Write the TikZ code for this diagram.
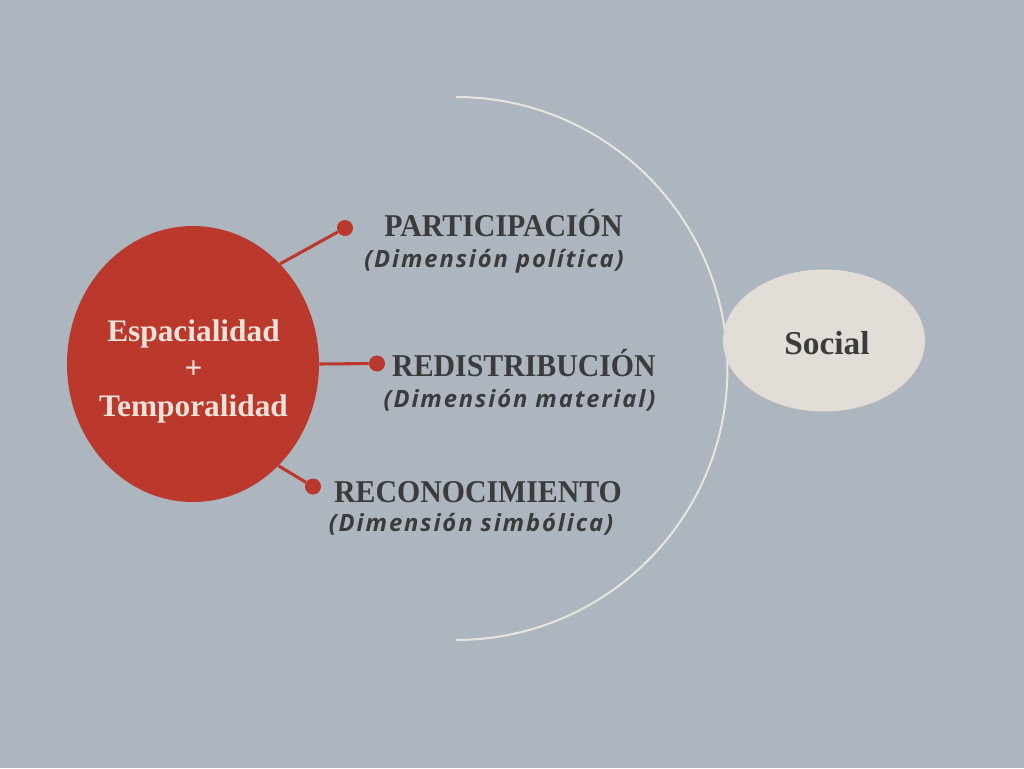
\documentclass[tikz,border=0pt]{standalone}
\usepackage{fontspec}
\setmainfont{Liberation Serif}
\newfontfamily\headfont[FakeStretch=0.94]{Liberation Serif}
\newfontfamily\bodyfont{Liberation Serif}
\newfontfamily\dimfont[LetterSpace=8]{Open Sans}
\usetikzlibrary{shapes.geometric}
\definecolor{bg}{HTML}{ADB5BF}
\definecolor{redc}{HTML}{BA382C}
\definecolor{cream}{HTML}{EDE1D8}
\definecolor{darktxt}{HTML}{3B3B3B}
\definecolor{socialfill}{HTML}{E2DDD7}
\definecolor{arcc}{HTML}{E8E4DE}
\tikzset{
  bigell/.style={ellipse, fill=redc, minimum width=189pt, minimum height=207pt, inner sep=0pt},
  inner/.style={text=cream, align=center, inner sep=0pt, anchor=base, font=\bodyfont\bfseries\fontsize{23.5}{28}\selectfont},
  socialell/.style={ellipse, fill=socialfill, minimum width=151.5pt, minimum height=106.5pt, inner sep=0pt},
  socialtxt/.style={text=darktxt, inner sep=0pt, anchor=base, font=\bodyfont\bfseries\fontsize{25}{28}\selectfont},
  dot/.style={circle, fill=redc, minimum size=12pt, inner sep=0pt},
  conn/.style={draw=redc, line width=2.3pt},
  head/.style={text=darktxt, inner sep=0pt, anchor=base, font=\headfont\bfseries\fontsize{23.8}{28}\selectfont},
  dim/.style={text=darktxt, inner sep=0pt, anchor=base, font=\dimfont\bfseries\itshape\fontsize{17.8}{20}\selectfont},
  arcline/.style={draw=arcc, line width=1.5pt}
}
\begin{document}
\begin{tikzpicture}[x=0.75pt,y=-0.75pt]
\fill[bg] (0,0) rectangle (1024,768);
\useasboundingbox (0,0) rectangle (1024,768);
% arc
\draw[arcline] (456,97) arc[start angle=90, end angle=-90, radius=203.6pt];
% social
\node[socialell] (social) at (824,340.5) {};
\node[socialtxt] (socialt) at (827,354) {Social};
% central ellipse
\node[bigell] (st) at (193,364) {};
\node[inner] (st1) at (193.5,341) {Espacialidad};
\node[inner] (st2) at (193.5,378) {+};
\node[inner] (st3) at (193.5,416) {Temporalidad};
% dots
\node[dot] (d1) at (345,228) {};
\node[dot] (d2) at (377,363.5) {};
\node[dot] (d3) at (313,486.5) {};
\draw[conn] (st.49) -- (d1);
\draw[conn] (st.0) -- (d2);
\draw[conn] (st.-50) -- (d3);
% labels
\node[head] (p) at (503.5,236) {PARTICIPACIÓN};
\node[dim] (pd) at (494,267) {(Dimensión política)};
\node[head] (r) at (524,376) {REDISTRIBUCIÓN};
\node[dim] (rd) at (519.5,407) {(Dimensión material)};
\node[head] (c) at (478,502) {RECONOCIMIENTO};
\node[dim] (cd) at (471,531) {(Dimensión simbólica)};
\end{tikzpicture}
\end{document}
